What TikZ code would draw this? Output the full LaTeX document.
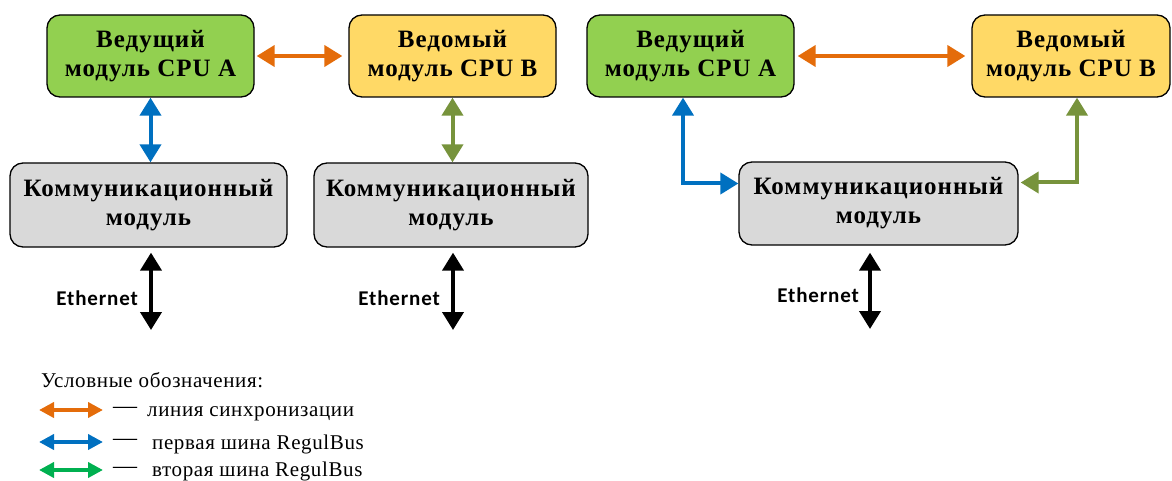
\documentclass[tikz,border=0pt]{standalone}
\usepackage{fontspec}
\setmainfont{Liberation Serif}
\newfontfamily\boxfont[LetterSpace=4]{Liberation Serif}
\newfontfamily\legfont[LetterSpace=3]{Liberation Serif}
\newfontfamily\ethfont[LetterSpace=4]{Carlito}
\usetikzlibrary{arrows.meta}
\definecolor{cpuA}{HTML}{92D050}
\definecolor{cpuB}{HTML}{FFD966}
\definecolor{commC}{HTML}{D9D9D9}
\definecolor{syncC}{HTML}{E46C0A}
\definecolor{busOne}{HTML}{0070C0}
\definecolor{busTwo}{HTML}{77933C}
\definecolor{legGreen}{HTML}{00B050}
\tikzset{
  box/.style={draw=black, line width=1.3pt, rounded corners=13pt, align=center,
    font=\boxfont\fontsize{25}{29}\selectfont\bfseries, inner sep=0pt},
  cpubox/.style={box, minimum height=82pt},
  commbox/.style={box, minimum height=84pt},
  conn/.style={line width=4pt, {Triangle[width=21pt,length=18pt]}-{Triangle[width=21pt,length=18pt]}},
  synclink/.style={conn, draw=syncC},
  busone/.style={conn, draw=busOne},
  bustwo/.style={conn, draw=busTwo},
  ethlink/.style={conn, draw=black},
  ethlabel/.style={font=\ethfont\fontsize{21}{23}\selectfont\bfseries, inner sep=0pt},
  legtext/.style={font=\legfont\fontsize{21}{24}\selectfont, inner sep=0pt},
  legdash/.style={font=\legfont\fontsize{24}{24}\selectfont, inner sep=0pt},
  legarrow/.style={line width=4pt, {Triangle[width=15pt,length=15pt]}-{Triangle[width=15pt,length=15pt]}}
}
\begin{document}
\begin{tikzpicture}[x=1pt,y=-1pt]
\useasboundingbox (0,0) rectangle (1172,481);
% left panel
\node[cpubox, fill=cpuA, minimum width=207pt] (A1) at (150.5,56) {Ведущий\\модуль CPU A};
\node[cpubox, fill=cpuB, minimum width=207pt] (B1) at (452.5,56) {Ведомый\\модуль CPU B};
\node[commbox, fill=commC, minimum width=277pt] (C1) at (148.5,205) {Коммуникационный\\модуль};
\node[commbox, fill=commC, minimum width=274pt] (C2) at (451,205) {Коммуникационный\\модуль};
% right panel
\node[cpubox, fill=cpuA, minimum width=207pt] (A2) at (690.5,56) {Ведущий\\модуль CPU A};
\node[cpubox, fill=cpuB, minimum width=198pt] (B2) at (1071,56) {Ведомый\\модуль CPU B};
\node[commbox, fill=commC, minimum width=279pt, minimum height=83pt] (C3) at (878.5,203.5) {Коммуникационный\\модуль};
% connectors left
\draw[synclink, shorten <=2pt, shorten >=6pt] (A1.east) -- (B1.west);
\draw[busone] (A1.south) -- (A1.south |- C1.north);
\draw[bustwo] (B1.south) -- (B1.south |- C2.north);
% connectors right
\draw[synclink, shorten <=3pt, shorten >=6pt] (A2.east) -- (B2.west);
\draw[busone] ([xshift=-7.5pt]A2.south) |- ([yshift=20pt]C3.west);
\draw[bustwo, shorten >=2pt] ([xshift=6pt]B2.south) |- ([yshift=21pt]C3.east);
% ethernet
\coordinate (E1) at (151,330);
\coordinate (E2) at (453,330);
\coordinate (E3) at (870,329);
\draw[ethlink, shorten <=5pt] (C1.south -| E1) -- (E1);
\draw[ethlink, shorten <=5pt] (C2.south -| E2) -- (E2);
\draw[ethlink, shorten <=7pt] (C3.south -| E3) -- (E3);
\node[ethlabel, anchor=east] (L1) at (138,298) {Ethernet};
\node[ethlabel, anchor=east] (L2) at (440,298) {Ethernet};
\node[ethlabel, anchor=east] (L3) at (859,295) {Ethernet};
% legend
\node[legtext, anchor=base west] (LT) at (41,387) {Условные обозначения:};
\coordinate (o1) at (39,410); \coordinate (o2) at (103,410);
\coordinate (b1) at (39,442); \coordinate (b2) at (103,442);
\coordinate (g1) at (39,470); \coordinate (g2) at (103,470);
\draw[legarrow, draw=syncC] (o1) -- (o2);
\draw[legarrow, draw=busOne] (b1) -- (b2);
\draw[legarrow, draw=legGreen] (g1) -- (g2);
\node[legdash] (d1) at (125,410) {—};
\node[legdash] (d2) at (125,442) {—};
\node[legdash] (d3) at (125,470) {—};
\node[legtext, anchor=base west] (t1) at (147,416) {линия синхронизации};
\node[legtext, anchor=base west] (t2) at (152,449) {первая шина RegulBus};
\node[legtext, anchor=base west] (t3) at (152,476) {вторая шина RegulBus};
\end{tikzpicture}
\end{document}
